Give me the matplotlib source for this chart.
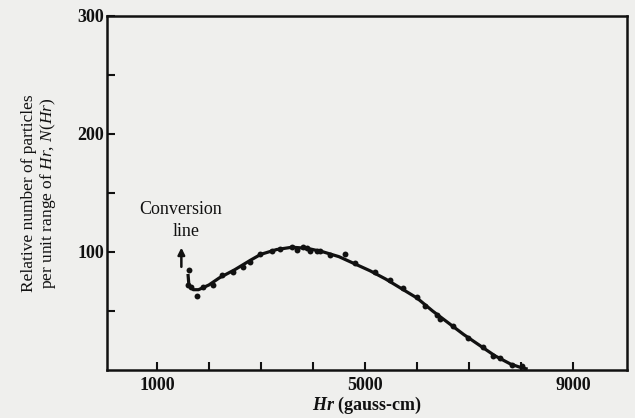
import matplotlib
matplotlib.use("Agg")
import matplotlib.pyplot as plt

# ---------------------------------------------------------------------------
# Data (Hr in gauss-cm, relative counts)
# ---------------------------------------------------------------------------
point_hr = [1620, 1600, 1660, 1763, 1890, 2083, 2244, 2468, 2660, 2788, 2981,
            3206, 3365, 3590, 3700, 3800, 3878, 3950, 4071, 4135, 4327, 4615,
            4808, 5192, 5481, 5737, 5994, 6154, 6379, 6442, 6698, 6987, 7275,
            7468, 7596, 7821, 8013]
point_n = [85, 72, 70, 63, 70.5, 72, 80.5, 83, 87, 91.6, 98.5,
           100.6, 102.7, 104.5, 102, 104, 103.6, 101, 100.6, 100.6, 97.6, 98.5,
           90.7, 82.6, 76.6, 69.7, 61.5, 54, 46.5, 43.5, 37.5, 27, 19.5,
           12, 10.5, 4.5, 3.6]

curve_hr = [1600, 1615, 1700, 1800, 2000, 2200, 2500, 2800, 3000, 3300, 3600,
            3900, 4200, 4500, 4800, 5100, 5400, 5700, 6000, 6300, 6600, 6900,
            7200, 7500, 7800, 8000, 8100]
curve_n = [80, 72, 68, 68, 72, 78, 85, 93, 98, 102, 104,
           103, 100, 96, 90, 84, 77, 69, 61, 50, 40, 30,
           21, 12, 5, 2, 1]

x_major = [1000, 5000, 9000]
x_minor = [2000, 3000, 4000, 6000, 7000, 8000]
y_major = [100, 200, 300]
y_minor = [50, 150, 250]

BG = "#efefed"
INK = "#111111"

plt.rcParams["font.family"] = ["Liberation Serif", "DejaVu Serif"]
plt.rcParams["mathtext.fontset"] = "custom"
plt.rcParams["mathtext.it"] = "Liberation Serif:italic"
plt.rcParams["mathtext.bfit"] = "Liberation Serif:italic:bold"

fig = plt.figure(figsize=(6.35, 4.18), dpi=100, facecolor=BG)
ax = fig.add_axes([0.1685, 0.115, 0.8189, 0.8469], facecolor=BG)

ax.plot(curve_hr, curve_n, color=INK, lw=2.3, zorder=2)
ax.scatter(point_hr, point_n, s=18, color=INK, zorder=3, linewidths=0)

ax.set_xlim(40, 10040)
ax.set_ylim(0, 300)

ax.set_xticks(x_major)
ax.set_xticks(x_minor, minor=True)
ax.set_yticks(y_major)
ax.set_yticks(y_minor, minor=True)
ax.tick_params(which="both", direction="in", width=1.5, color=INK,
               labelsize=13, labelcolor=INK, length=6)
ax.tick_params(axis="y", pad=2)
ax.tick_params(axis="x", pad=5)
for lab in ax.get_xticklabels() + ax.get_yticklabels():
    lab.set_fontweight("bold")
for sp in ax.spines.values():
    sp.set_linewidth(1.8)
    sp.set_color(INK)

ax.set_xlabel(r"$\mathbfit{Hr}$ (gauss-cm)", fontsize=13, fontweight="bold",
              color=INK, labelpad=1)
ax.set_ylabel("Relative number of particles\nper unit range of $Hr$, $N$($Hr$)",
              fontsize=12.5, color=INK, labelpad=14, linespacing=1.05)

# conversion line annotation
ax.annotate("", xy=(1470, 106), xytext=(1470, 85),
            arrowprops=dict(arrowstyle="-|>", color=INK, lw=1.8,
                            mutation_scale=10))
ax.text(1450, 136, "Conversion", ha="center", va="center", fontsize=13,
        color=INK)
ax.text(1560, 117, "line", ha="center", va="center", fontsize=13, color=INK)

fig.savefig("out.png", dpi=100, facecolor=BG)
